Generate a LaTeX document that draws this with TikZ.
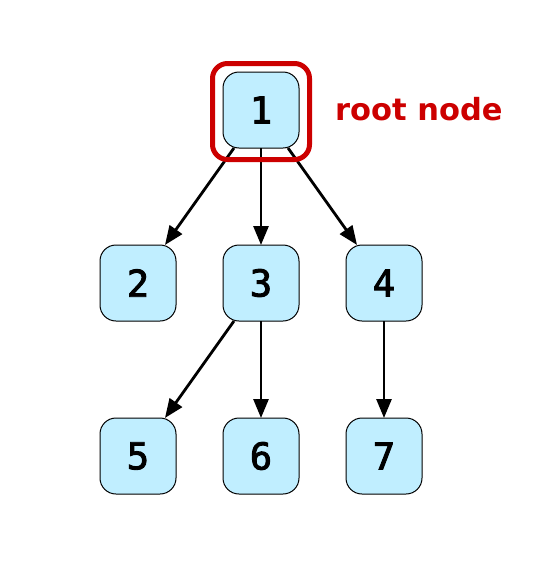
\documentclass[tikz,border=0pt]{standalone}
\usepackage{fontspec}
\setmainfont{DejaVu Sans}
\font\digitfnt="DejaVu Sans Mono:embolden=2.5" at 37pt
\usetikzlibrary{arrows.meta}
\definecolor{nodefill}{RGB}{192,238,255}
\definecolor{rootred}{RGB}{204,0,0}
\tikzset{
  treenode/.style={draw=black, line width=1pt, fill=nodefill, rounded corners=16pt,
    minimum width=76pt, minimum height=76pt, inner sep=0pt, outer sep=0pt,
    font=\digitfnt},
  treeedge/.style={line width=2.8pt, -{Triangle[length=19pt,width=15pt]}},
  highlight/.style={draw=rootred, line width=5pt, rounded corners=15pt,
    minimum width=97pt, minimum height=96pt, inner sep=0pt},
  rootlabel/.style={text=rootred, font=\bfseries\fontsize{30.5}{30.5}\selectfont, inner sep=0pt}
}
\begin{document}
\begin{tikzpicture}[x=1pt,y=-1pt]
\useasboundingbox (0,0) rectangle (554,568);
\node[treenode] (n1) at (261,110) {1};
\node[treenode] (n2) at (138,283) {2};
\node[treenode] (n3) at (261,283) {3};
\node[treenode] (n4) at (384,283) {4};
\node[treenode] (n5) at (138,456) {5};
\node[treenode] (n6) at (261,456) {6};
\node[treenode] (n7) at (384,456) {7};
\draw[treeedge] (n1) -- (n2);
\draw[treeedge] (n1) -- (n3);
\draw[treeedge] (n1) -- (n4);
\draw[treeedge] (n3) -- (n5);
\draw[treeedge] (n3) -- (n6);
\draw[treeedge] (n4) -- (n7);
\node[highlight] (hl) at (261,111.5) {};
\node[rootlabel, anchor=base west] (lbl) at (335,120) {root node};
\end{tikzpicture}
\end{document}
